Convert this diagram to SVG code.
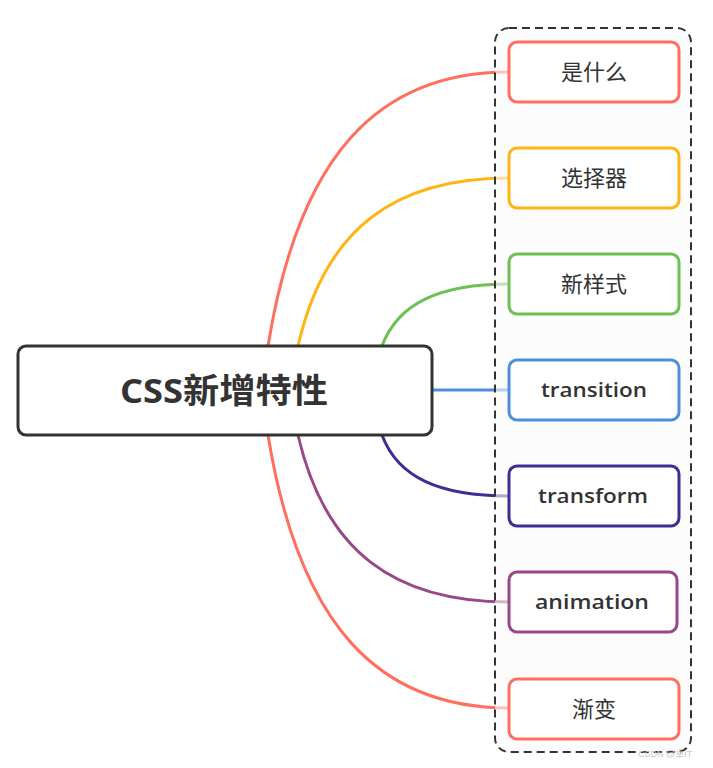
<svg xmlns="http://www.w3.org/2000/svg" width="713" height="768" viewBox="0 0 713 768">
<style>
.bg{fill:#ffffff}
.conn{fill:none;stroke-width:3;stroke-linecap:round}
.box{fill:#ffffff;stroke-width:3}
.lbl{font-family:"Noto Sans CJK SC","Open Sans",sans-serif;font-size:22px;fill:#333333;text-anchor:middle}
.en{font-family:"Open Sans","Noto Sans",sans-serif;font-size:20px;font-weight:600;fill:#333333;text-anchor:middle}
.main{font-family:"Open Sans","Noto Sans CJK SC",sans-serif;font-size:34px;font-weight:700;fill:#333333;text-anchor:middle}
.wm{font-family:"Liberation Sans","Noto Sans CJK SC",sans-serif;font-size:9px;fill:#c8c8c8}
</style>
<rect class="bg" x="0" y="0" width="713" height="768"/>
<g id="connectors">
<path class="conn" stroke="#FF6F5E" d="M268,346 C299,154 379,72 509,72"/>
<path class="conn" stroke="#FFB413" d="M298,346 C325,228 395,178 509,178"/>
<path class="conn" stroke="#6BC152" d="M382,346 C398,303 440,284 509,284"/>
<path class="conn" stroke="#4D8FDB" d="M432,390 L509,390"/>
<path class="conn" stroke="#3C2E93" d="M382,435 C398,478 440,496 509,496"/>
<path class="conn" stroke="#984788" d="M298,435 C325,552 395,602 509,602"/>
<path class="conn" stroke="#FF6F5E" d="M268,435 C299,626 379,708 509,708"/>
</g>
<g id="container">
<rect x="495" y="28" width="196" height="724" rx="14" fill="#fafafa" fill-opacity="0.6" stroke="#333333" stroke-width="2" stroke-dasharray="8 5"/>
</g>
<g id="center">
<rect class="box" x="18" y="346" width="414" height="89" rx="8" stroke="#333333"/>
<text class="main" x="224" y="403" textLength="208" lengthAdjust="spacingAndGlyphs">CSS新增特性</text>
</g>
<g id="n1">
<rect class="box" x="509" y="42" width="170" height="60" rx="8" stroke="#FF6F5E"/>
<text class="lbl" x="594" y="80">是什么</text>
</g>
<g id="n2">
<rect class="box" x="509" y="148" width="170" height="60" rx="8" stroke="#FFB413"/>
<text class="lbl" x="594" y="186">选择器</text>
</g>
<g id="n3">
<rect class="box" x="509" y="254" width="170" height="60" rx="8" stroke="#6BC152"/>
<text class="lbl" x="594" y="292">新样式</text>
</g>
<g id="n4">
<rect class="box" x="509" y="360" width="170" height="60" rx="8" stroke="#4D8FDB"/>
<text class="en" x="594" y="397" textLength="106" lengthAdjust="spacingAndGlyphs">transition</text>
</g>
<g id="n5">
<rect class="box" x="509" y="466" width="170" height="60" rx="8" stroke="#3C2E93"/>
<text class="en" x="593" y="503" textLength="110" lengthAdjust="spacingAndGlyphs">transform</text>
</g>
<g id="n6">
<rect class="box" x="509" y="572" width="168" height="60" rx="8" stroke="#984788"/>
<text class="en" x="592" y="609" textLength="114" lengthAdjust="spacingAndGlyphs">animation</text>
</g>
<g id="n7">
<rect class="box" x="509" y="679" width="170" height="60" rx="8" stroke="#FF6F5E"/>
<text class="lbl" x="594" y="717">渐变</text>
</g>
<text class="wm" x="638" y="757">CSDN @卓IT</text>
</svg>
